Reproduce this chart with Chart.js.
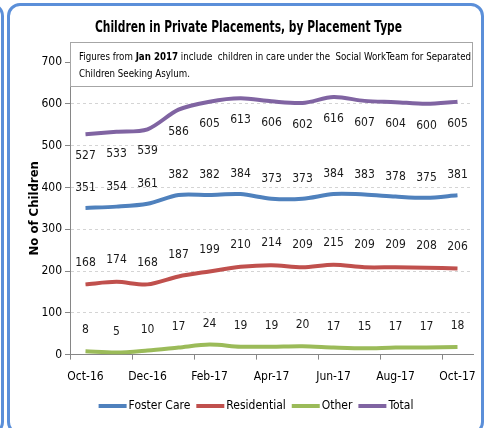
<!DOCTYPE html>
<html>
<head>
<meta charset="utf-8">
<script src="https://cdn.jsdelivr.net/npm/chart.js@4.4.1/dist/chart.umd.min.js"></script>
<style>
  html, body { margin: 0; padding: 0; background: #fff; overflow: hidden; }
  #wrap { position: relative; width: 484px; height: 428px; }
  .frame { position: absolute; border: 3px solid #5b8fd9; border-radius: 13px; box-sizing: border-box; }
  #f1 { left: 7px; top: 3px; width: 477px; height: 432px; }
  #f2 { left: -200px; top: 3px; width: 204px; height: 432px; }
  canvas { position: absolute; left: 0; top: 0; }
</style>
</head>
<body>
<div id="wrap">
  <div class="frame" id="f1"></div>
  <div class="frame" id="f2"></div>
  <canvas id="myChart" width="484" height="428"></canvas>
</div>
<script>
const FONT = "'Liberation Sans Narrow', 'DejaVu Sans Condensed', 'Open Sans', sans-serif";

// datos
const months = ["Oct-16", "Nov-16", "Dec-16", "Jan-17", "Feb-17", "Mar-17", "Apr-17",
  "May-17", "Jun-17", "Jul-17", "Aug-17", "Sep-17", "Oct-17"];
const fosterCare = [351, 354, 361, 382, 382, 384, 373, 373, 384, 383, 378, 375, 381];
const residential = [168, 174, 168, 187, 199, 210, 214, 209, 215, 209, 209, 208, 206];
const other = [8, 5, 10, 17, 24, 19, 19, 20, 17, 15, 17, 17, 18];
const total = [527, 533, 539, 586, 605, 613, 606, 602, 616, 607, 604, 600, 605];
const yTicks = [0, 100, 200, 300, 400, 500, 600, 700];

const titulo = "Children in Private Placements, by Placement Type";

const serie = (label, data, color, off) => ({
  label, data,
  borderColor: color, backgroundColor: color,
  borderWidth: 4, pointRadius: 0, tension: 0.3,
  labelOffset: off
});

// etiquetas de datos
const dataLabels = {
  id: "dataLabels",
  afterDatasetsDraw(c) {
    const ctx = c.ctx;
    ctx.save();
    ctx.font = "12px " + FONT;
    ctx.fillStyle = "#1a1a1a";
    ctx.textAlign = "center";
    ctx.textBaseline = "middle";
    c.data.datasets.forEach((ds, i) => {
      c.getDatasetMeta(i).data.forEach((pt, j) => {
        ctx.fillText(ds.data[j], pt.x, pt.y + ds.labelOffset);
      });
    });
    ctx.restore();
  }
};

// leyenda propia (muestra pegada al texto, como en Excel)
const leyenda = {
  id: "leyenda",
  afterDraw(c) {
    const ctx = c.ctx;
    ctx.save();
    ctx.font = "12px " + FONT;
    ctx.textBaseline = "middle";
    const items = c.data.datasets.map(ds => ({ t: ds.label, col: ds.borderColor, w: ctx.measureText(ds.label).width }));
    const anchoTotal = items.reduce((s, it) => s + 28 + 2 + it.w, 0) + 6 * (items.length - 1);
    let x = 256 - anchoTotal / 2;
    const y = 406;
    items.forEach(it => {
      ctx.fillStyle = it.col;
      ctx.fillRect(x, y - 2, 28, 4);
      ctx.fillStyle = "#000";
      ctx.fillText(it.t, x + 30, y);
      x += 30 + it.w + 6;
    });
    ctx.restore();
  }
};

// titulo y nota (texto comprimido a lo ancho, como en el original)
const textoFijo = {
  id: "textoFijo",
  afterDraw(c) {
    const ctx = c.ctx, a = c.chartArea;
    ctx.save();
    ctx.fillStyle = "#000";
    ctx.textBaseline = "middle";
    ctx.font = "bold 15px " + FONT;
    let w = ctx.measureText(titulo).width;
    let sx = 307 / w;
    ctx.save();
    ctx.translate(95, 28);
    ctx.scale(sx, 1);
    ctx.fillText(titulo, 0, 0);
    ctx.restore();

    ctx.fillStyle = "#fff";
    ctx.strokeStyle = "#a6a6a6";
    ctx.lineWidth = 1;
    ctx.fillRect(a.left, 42, a.right - a.left, 44);
    ctx.strokeRect(a.left + 0.5, 42.5, a.right - a.left - 1, 44);
    ctx.fillStyle = "#000";
    const parts = [["Figures from ", ""], ["Jan 2017", "bold "], [" include  children in care under the  Social WorkTeam for Separated", ""]];
    w = 0;
    parts.forEach(([t, b]) => { ctx.font = b + "11px " + FONT; w += ctx.measureText(t).width; });
    sx = 392 / w;
    ctx.translate(a.left + 9, 0);
    ctx.scale(sx, 1);
    let x = 0;
    parts.forEach(([t, b]) => {
      ctx.font = b + "11px " + FONT;
      ctx.fillText(t, x, 57);
      x += ctx.measureText(t).width;
    });
    ctx.font = "11px " + FONT;
    ctx.fillText("Children Seeking Asylum.", 0, 74);
    ctx.restore();
  }
};

const ctx = document.getElementById("myChart").getContext("2d");
const chart = new Chart(ctx, {
  type: "line",
  data: {
    labels: months,
    datasets: [
      serie("Foster Care", fosterCare, "#4f81bd", -20),
      serie("Residential", residential, "#c0504d", -22),
      serie("Other", other, "#9bbb59", -21),
      serie("Total", total, "#8064a2", 22)
    ]
  },
  options: {
    responsive: false,
    animation: false,
    layout: { padding: { left: 18, right: 11, top: 62, bottom: 34 } },
    plugins: {
      title: { display: false },
      legend: { display: false },
      tooltip: { enabled: false }
    },
    scales: {
      x: {
        offset: true,
        afterFit: s => { s.paddingLeft = 0; s.paddingRight = 0; },
        grid: {
          offset: true, drawOnChartArea: false, tickLength: 5,
          tickColor: c => c.index % 2 === 0 ? "#868686" : "transparent"
        },
        border: { color: "#868686", width: 1 },
        ticks: {
          autoSkip: false, maxRotation: 0, color: "#000", padding: 10,
          font: { family: FONT, size: 12 },
          callback: (v, i) => i % 2 === 0 ? months[i] : ""
        }
      },
      y: {
        min: yTicks[0], max: yTicks[yTicks.length - 1],
        afterBuildTicks: s => { s.ticks = yTicks.map(v => ({ value: v })); },
        afterFit: s => { s.width = 52; },
        grid: { color: "#d4d4d4", tickColor: "#868686", tickLength: 5 },
        border: { color: "#868686", width: 1, dash: [3, 3] },
        ticks: { color: "#000", padding: 3, font: { family: FONT, size: 12 } },
        title: {
          display: true, text: "No of Children", color: "#000",
          font: { family: FONT, size: 13, weight: "bold" },
          padding: { top: 9 }
        }
      }
    }
  },
  plugins: [dataLabels, leyenda, textoFijo]
});
</script>
</body>
</html>
